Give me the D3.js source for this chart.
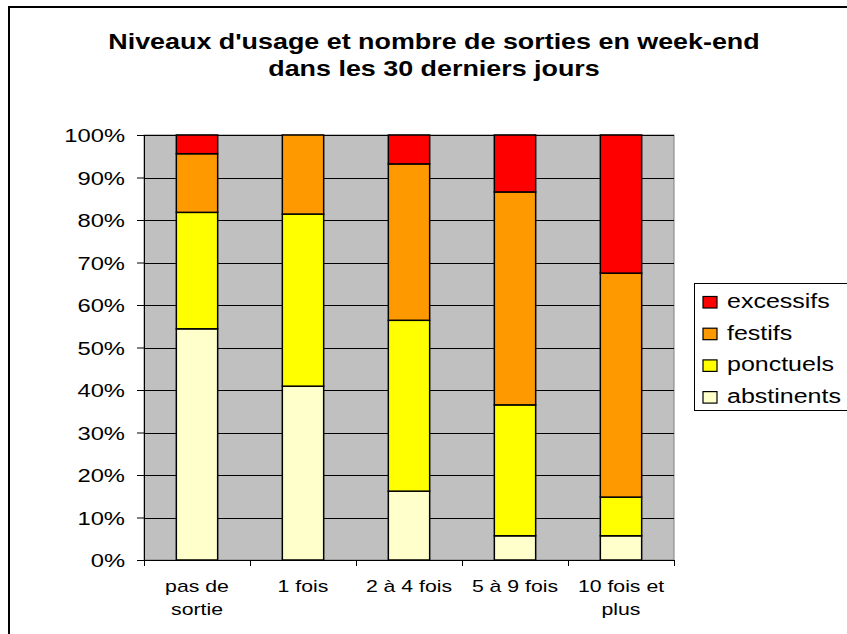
<!DOCTYPE html>
<html>
<head>
<meta charset="utf-8">
<script src="https://cdn.jsdelivr.net/npm/d3@7"></script>
<style>
  body { margin: 0; background: #fff; }
  text { font-family: "Liberation Sans", Arial, sans-serif; fill: #000; }
</style>
</head>
<body>
<svg id="chart"></svg>
<script>
var width = 847,
  height = 634;

// data (percent of each group)
var categories = ["pas de\nsortie", "1 fois", "2 à 4 fois", "5 à 9 fois", "10 fois et\nplus"];
var seriesNames = ["abstinents", "ponctuels", "festifs", "excessifs"];
var abstinents = [54.4, 40.9, 16.2, 5.7, 5.7];
var ponctuels = [27.4, 40.5, 40.2, 30.8, 9.1];
var festifs = [13.8, 18.6, 36.8, 50.1, 52.7];
var excessifs = [4.4, 0, 6.8, 13.4, 32.5];
var yTicks = [0, 10, 20, 30, 40, 50, 60, 70, 80, 90, 100];
var titleLines = ["Niveaux d'usage et nombre de sorties en week-end", "dans les 30 derniers jours"];

var colors = {
  abstinents: "#ffffcc",
  ponctuels: "#ffff00",
  festifs: "#ff9900",
  excessifs: "#ff0000"
};

// the original text is a bit stretched horizontally
var sx = 1.25;

var table = categories.map(function(c, i) {
  return { cat: c, abstinents: abstinents[i], ponctuels: ponctuels[i], festifs: festifs[i], excessifs: excessifs[i] };
});

var plot = { left: 144, right: 674, top: 135, bottom: 560 };

var svg = d3.select('#chart')
  .attr('width', width)
  .attr('height', height);

svg.append('rect')
  .attr('width', width)
  .attr('height', height)
  .attr('fill', '#fff');

// outer frame
svg.append('rect')
  .attr('x', 9)
  .attr('y', 7)
  .attr('width', 900)
  .attr('height', 700)
  .attr('fill', 'none')
  .attr('stroke', '#000')
  .attr('stroke-width', 2);

function stretchedText(sel, x, y, txt, size, anchor, weight) {
  return sel.append('text')
    .attr('transform', 'translate(' + x + ',' + y + ') scale(' + sx + ',1)')
    .attr('text-anchor', anchor)
    .attr('font-size', size)
    .attr('font-weight', weight || 'normal')
    .text(txt);
}

// title
titleLines.forEach(function(t, i) {
  stretchedText(svg, 434, 48.5 + i * 27, t, 21.5, 'middle', 'bold');
});

var x = d3.scaleBand()
  .domain(categories)
  .range([plot.left, plot.right])
  .paddingInner(0.61)
  .paddingOuter(0.305);

var xEdge = d3.scaleLinear()
  .domain([0, categories.length])
  .range([plot.left, plot.right]);

var y = d3.scaleLinear()
  .domain([0, 100])
  .range([plot.bottom, plot.top]);

// plot background
svg.append('rect')
  .attr('x', plot.left)
  .attr('y', plot.top)
  .attr('width', plot.right - plot.left)
  .attr('height', plot.bottom - plot.top)
  .attr('fill', '#c0c0c0')
  .attr('stroke', '#808080')
  .attr('stroke-width', 1);

// gridlines
svg.append('g')
  .selectAll('line')
  .data(yTicks.slice(1))
  .enter().append('line')
  .attr('x1', plot.left)
  .attr('x2', plot.right)
  .attr('y1', function(d) { return Math.round(y(d)) + 0.5; })
  .attr('y2', function(d) { return Math.round(y(d)) + 0.5; })
  .attr('stroke', '#000')
  .attr('stroke-width', 1);

// stacked bars
var stack = d3.stack().keys(seriesNames);
var layers = stack(table);

svg.append('g')
  .selectAll('g')
  .data(layers)
  .enter().append('g')
  .attr('fill', function(d) { return colors[d.key]; })
  .selectAll('rect')
  .data(function(d) { return d; })
  .enter().append('rect')
  .attr('x', function(d) { return x(d.data.cat); })
  .attr('width', x.bandwidth())
  .attr('y', function(d) { return y(d[1]); })
  .attr('height', function(d) { return y(d[0]) - y(d[1]); })
  .attr('stroke', '#000')
  .attr('stroke-width', 1.5);

// y axis
var yAxis = svg.append('g')
  .attr('transform', 'translate(' + plot.left + ',0)')
  .call(d3.axisLeft(y)
    .tickValues(yTicks)
    .tickSize(7)
    .tickFormat(function(d) { return d + '%'; }));

yAxis.select('.domain').attr('stroke', '#000');
yAxis.selectAll('.tick text')
  .attr('x', null)
  .attr('dy', null)
  .attr('transform', 'translate(-19,6.5) scale(' + sx + ',1)')
  .attr('font-size', 19)
  .attr('font-family', '"Liberation Sans", Arial, sans-serif')
  .attr('fill', '#000');

// x axis: ticks on the category boundaries
var xAxis = svg.append('g')
  .attr('transform', 'translate(0,' + plot.bottom + ')')
  .call(d3.axisBottom(xEdge)
    .tickValues(d3.range(categories.length + 1))
    .tickSize(6)
    .tickFormat(''));

xAxis.select('.domain').attr('stroke', '#000');

var catLabels = svg.append('g');
categories.forEach(function(c) {
  c.split('\n').forEach(function(line, j) {
    stretchedText(catLabels, x(c) + x.bandwidth() / 2, 591.5 + j * 23.5, line, 17, 'middle');
  });
});

// legend
var legend = svg.append('g');
legend.append('rect')
  .attr('x', 694.5)
  .attr('y', 283.5)
  .attr('width', 200)
  .attr('height', 127)
  .attr('fill', '#fff')
  .attr('stroke', '#000')
  .attr('stroke-width', 1);

var legendOrder = seriesNames.slice().reverse();
legendOrder.forEach(function(name, i) {
  var base = 308 + i * 31.7;
  legend.append('rect')
    .attr('x', 703)
    .attr('y', base - 11.5)
    .attr('width', 14)
    .attr('height', 11.5)
    .attr('fill', colors[name])
    .attr('stroke', '#000')
    .attr('stroke-width', 1.2);
  stretchedText(legend, 727, base, name, 20, 'start');
});
</script>
</body>
</html>
